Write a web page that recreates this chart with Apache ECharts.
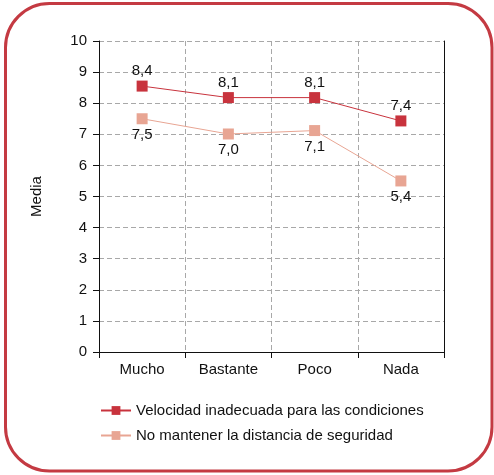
<!DOCTYPE html>
<html><head><meta charset="utf-8">
<script src="https://cdn.jsdelivr.net/npm/echarts@6/dist/echarts.min.js"></script>
<style>html,body{margin:0;padding:0;background:#fff}#c{width:494px;height:475px}</style>
</head><body><div id="c"></div>
<script>
const categories = ['Mucho', 'Bastante', 'Poco', 'Nada'];
const seriesNames = ['Velocidad inadecuada para las condiciones', 'No mantener la distancia de seguridad'];
const velocidad = [8.55, 8.18, 8.18, 7.43];
const distancia = [7.5, 7.01, 7.12, 5.5];
const velocidadLabels = ['8,4', '8,1', '8,1', '7,4'];
const distanciaLabels = ['7,5', '7,0', '7,1', '5,4'];
const yTicks = [0,1,2,3,4,5,6,7,8,9,10];

const font = 'Liberation Sans, Arial, sans-serif';
const fs = 15;
const chart = echarts.init(document.getElementById('c'));
chart.setOption({
  animation: false,
  graphic: [{
    type: 'rect', left: 3, top: 1,
    shape: { x: 0, y: 0, width: 486.5, height: 467.5, r: 44 },
    style: { fill: 'none', stroke: '#c43a42', lineWidth: 3 }, z: -1
  }],
  grid: { left: 99, right: 50, top: 41, bottom: 123 },
  legend: {
    orient: 'vertical', left: 100, top: 403, itemGap: 10, padding: 0,
    itemWidth: 30, itemHeight: 11,
    textStyle: { fontFamily: font, fontSize: fs, color: '#111' },
    data: seriesNames
  },
  xAxis: {
    type: 'category', data: categories, boundaryGap: true,
    axisLine: { lineStyle: { color: '#111', width: 1 } },
    axisTick: { show: true, length: 6, lineStyle: { color: '#111' } },
    axisLabel: { fontFamily: font, fontSize: fs, color: '#111', margin: 10 },
    splitLine: { show: true, lineStyle: { color: '#a8a8a8', type: [5, 3] } }
  },
  yAxis: [{
    type: 'value', min: 0, max: 10, interval: 1,
    name: 'Media', nameLocation: 'middle', nameGap: 55, nameRotate: 90,
    nameTextStyle: { fontFamily: font, fontSize: fs, color: '#111' },
    axisLine: { show: true, lineStyle: { color: '#111' } },
    axisTick: { show: true, length: 6, lineStyle: { color: '#111' } },
    axisLabel: { fontFamily: font, fontSize: fs, color: '#111', margin: 12,
      formatter: v => yTicks.includes(v) ? String(v) : '' },
    splitLine: { show: true, lineStyle: { color: '#a8a8a8', type: [5, 3] } }
  }, {
    type: 'value', min: 0, max: 10, position: 'right',
    axisLine: { show: true, lineStyle: { color: '#111' } },
    axisTick: { show: false }, axisLabel: { show: false }, splitLine: { show: false }
  }],
  series: [{
    name: seriesNames[0], type: 'line', data: velocidad,
    symbol: 'rect', symbolSize: 11,
    itemStyle: { color: '#c8333d' },
    lineStyle: { color: '#c8333d', width: 1 },
    label: { show: true, position: 'top', distance: 2, fontFamily: font, fontSize: fs, color: '#111',
      formatter: p => velocidadLabels[p.dataIndex] }
  }, {
    name: seriesNames[1], type: 'line', data: distancia,
    symbol: 'rect', symbolSize: 11,
    itemStyle: { color: '#e8a593' },
    lineStyle: { color: '#e8a593', width: 1 },
    label: { show: true, position: 'bottom', distance: 3, fontFamily: font, fontSize: fs, color: '#111',
      formatter: p => distanciaLabels[p.dataIndex] }
  }]
});
</script></body></html>
